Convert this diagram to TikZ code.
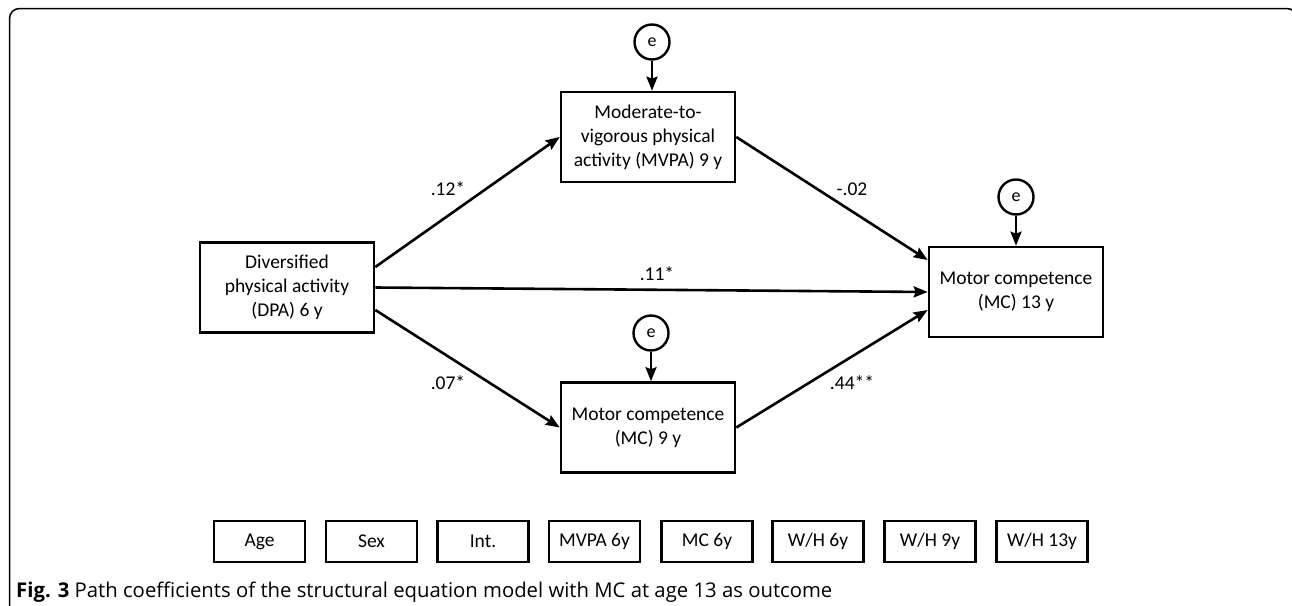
\documentclass[tikz,border=0pt]{standalone}
\usepackage{fontspec}
\setmainfont{Carlito}
\newfontfamily\capfont{Open Sans}
\usetikzlibrary{arrows.meta,calc}
\begin{document}
\begin{tikzpicture}[x=1pt,y=-1pt,
  mainbox/.style={draw,line width=2.6pt,minimum width=174pt,minimum height=90pt,align=center,inner sep=0pt,font=\fontsize{19.5}{24}\selectfont},
  covbox/.style={draw,line width=2.6pt,minimum width=91pt,minimum height=41pt,inner sep=0pt,font=\fontsize{19.5}{24}\selectfont},
  errc/.style={draw,circle,line width=2.4pt,minimum size=35pt,inner sep=0pt,font=\fontsize{18}{20}\selectfont},
  arr/.style={line width=2.6pt,-{Stealth[length=14pt,width=11pt,inset=2pt]}},
  coef/.style={font=\fontsize{19.5}{24}\selectfont,inner sep=0pt}]
\useasboundingbox (0,0) rectangle (1292,605);
% frame
\draw[line width=1.5pt,rounded corners=10pt] (9.5,615) -- (9.5,8.5) -- (1297,8.5) -- (1297,615);
% main nodes
\node[mainbox] (dpa)  at (287,287.5) {Diversified\\physical activity\\(DPA) 6 y};
\node[mainbox] (mvpa) at (648,137) {Moderate-to-\\vigorous physical\\activity (MVPA) 9 y};
\node[mainbox] (mc9)  at (648,427.5) {Motor competence\\(MC) 9 y};
\node[mainbox] (mc13) at (1016,292) {Motor competence\\(MC) 13 y};
% error terms
\node[errc] (e1) at (652,42) {e};
\node[errc] (e2) at (651,333) {e};
\node[errc] (e3) at (1016,197) {e};
\draw[arr] (e1) -- (e1 |- mvpa.north);
\draw[arr] (e2) -- (e2 |- mc9.north);
\draw[arr] (e3) -- (e3 |- mc13.north);
% paths
\draw[arr] ([yshift=20.5pt]dpa.east) -- (mvpa.west);
\draw[arr] (dpa.east) -- (mc13.west);
\draw[arr] ([yshift=-22.5pt]dpa.east) -- (mc9.west);
\draw[arr] (mvpa.east) -- ([yshift=32pt]mc13.west);
\draw[arr] (mc9.east) -- ([yshift=-18pt]mc13.west);
% coefficients
\node[coef] (c1) at (448,189) {.12*};
\node[coef] (c2) at (657,274) {.11*};
\node[coef] (c3) at (852,189) {-.02};
\node[coef] (c4) at (448,383) {.07*};
\node[coef] (c5) at (852,383) {.44**};
% covariates
\node[covbox] (b1) at (259.5,541.5) {Age};
\node[covbox] (b2) at (371.5,541.5) {Sex};
\node[covbox] (b3) at (483,541.5) {Int.};
\node[covbox] (b4) at (594.5,541.5) {MVPA 6y};
\node[covbox] (b5) at (707,541.5) {MC 6y};
\node[covbox] (b6) at (818,541.5) {W/H 6y};
\node[covbox] (b7) at (930,541.5) {W/H 9y};
\node[covbox] (b8) at (1042,541.5) {W/H 13y};
% caption
\node[anchor=west,inner sep=0pt,font=\capfont\fontsize{20.3}{22}\selectfont] (cap) at (16,592) {\textbf{Fig. 3} Path coefficients of the structural equation model with MC at age 13 as outcome};
\end{tikzpicture}
\end{document}
